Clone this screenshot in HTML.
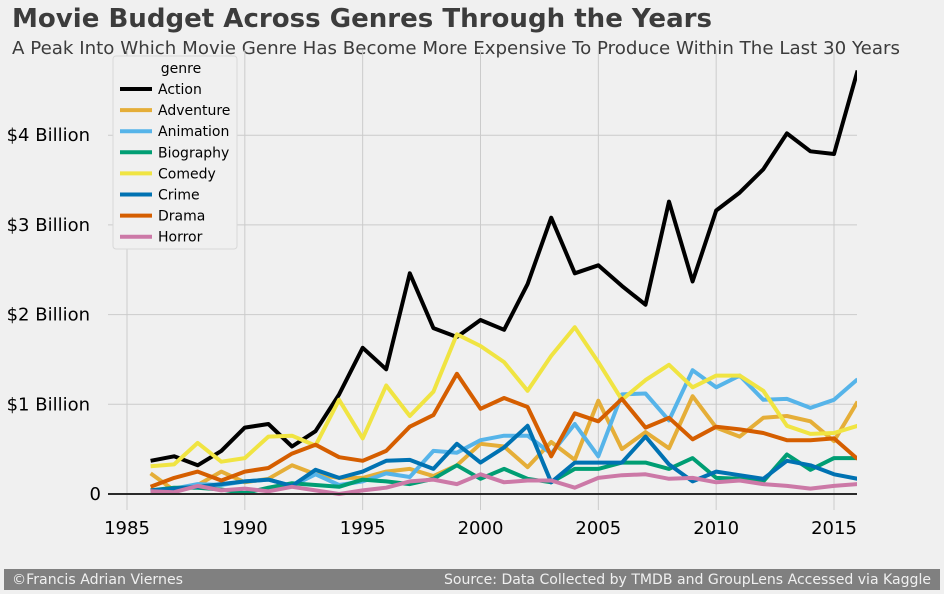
<!DOCTYPE html>
<html><head><meta charset="utf-8"><style>
body{margin:0;background:#f0f0f0;font-family:"DejaVu Sans","Liberation Sans",sans-serif;}
svg{display:block}
</style></head><body>
<svg id="chart" width="944" height="594" font-family="DejaVu Sans, Liberation Sans, sans-serif">
<rect width="944" height="594" fill="#f0f0f0"/>
<text x="12" y="27" font-size="26" font-weight="bold" fill="#3c3c3c" textLength="700" lengthAdjust="spacingAndGlyphs">Movie Budget Across Genres Through the Years</text>
<text x="12" y="54" font-size="17.5" fill="#3c3c3c" textLength="888" lengthAdjust="spacingAndGlyphs">A Peak Into Which Movie Genre Has Become More Expensive To Produce Within The Last 30 Years</text>
<g id="grid"></g>
<g id="lines"></g>
<g id="legend"></g>
<rect x="4" y="569" width="936" height="21" fill="#808080"/>
<text x="12" y="584" font-size="14" fill="#f0f0f0" textLength="171" lengthAdjust="spacingAndGlyphs">©Francis Adrian Viernes</text>
<text x="931" y="584" font-size="14" fill="#f0f0f0" text-anchor="end" textLength="487" lengthAdjust="spacingAndGlyphs">Source: Data Collected by TMDB and GroupLens Accessed via Kaggle</text>
</svg>
<script>
const years=[1986,1987,1988,1989,1990,1991,1992,1993,1994,1995,1996,1997,1998,1999,2000,2001,2002,2003,2004,2005,2006,2007,2008,2009,2010,2011,2012,2013,2014,2015,2016];
const genres=["Action","Adventure","Animation","Biography","Comedy","Crime","Drama","Horror"];
const action=[0.37,0.42,0.32,0.48,0.74,0.78,0.53,0.70,1.11,1.63,1.39,2.46,1.85,1.75,1.94,1.83,2.34,3.08,2.46,2.55,2.32,2.11,3.26,2.37,3.16,3.36,3.62,4.02,3.82,3.79,4.72];
const adventure=[0.23,0.04,0.10,0.25,0.13,0.17,0.32,0.22,0.18,0.18,0.25,0.28,0.20,0.32,0.56,0.53,0.30,0.58,0.38,1.04,0.50,0.69,0.51,1.09,0.74,0.64,0.85,0.87,0.81,0.59,1.03];
const animation=[0.03,0.06,0.11,0.10,0.14,0.16,0.09,0.22,0.10,0.14,0.23,0.19,0.48,0.46,0.60,0.65,0.65,0.45,0.78,0.42,1.11,1.12,0.82,1.38,1.19,1.32,1.05,1.06,0.96,1.05,1.28];
const biography=[0.04,0.07,0.07,0.05,0.01,0.07,0.12,0.10,0.08,0.16,0.14,0.11,0.17,0.32,0.17,0.28,0.17,0.13,0.28,0.28,0.35,0.35,0.28,0.40,0.18,0.17,0.14,0.44,0.27,0.40,0.40];
const comedy=[0.31,0.33,0.57,0.36,0.40,0.64,0.65,0.54,1.05,0.62,1.21,0.87,1.14,1.78,1.65,1.47,1.15,1.54,1.86,1.47,1.05,1.27,1.44,1.19,1.32,1.32,1.15,0.76,0.67,0.68,0.76];
const crime=[0.04,0.06,0.08,0.11,0.14,0.16,0.09,0.27,0.18,0.25,0.37,0.38,0.28,0.56,0.35,0.52,0.76,0.13,0.35,0.35,0.35,0.64,0.33,0.14,0.25,0.21,0.17,0.37,0.32,0.22,0.17];
const drama=[0.08,0.18,0.25,0.15,0.25,0.29,0.45,0.55,0.41,0.37,0.48,0.75,0.88,1.34,0.95,1.07,0.97,0.42,0.90,0.81,1.06,0.74,0.85,0.61,0.75,0.72,0.68,0.60,0.60,0.62,0.39];
const horror=[0.03,0.02,0.09,0.04,0.06,0.03,0.08,0.04,0.00,0.04,0.07,0.14,0.16,0.11,0.22,0.13,0.15,0.15,0.07,0.18,0.21,0.22,0.17,0.18,0.13,0.15,0.11,0.09,0.06,0.09,0.11];
const series=[action,adventure,animation,biography,comedy,crime,drama,horror];
const colors=["#000000","#e5ae38","#56b4e9","#009e73","#f0e442","#0072b2","#d55e00","#cc79a7"];
const yTicks=[0,1,2,3,4];
const yLabels=["0","$1 Billion","$2 Billion","$3 Billion","$4 Billion"];
const xTicks=[1985,1990,1995,2000,2005,2010,2015];

const NS="http://www.w3.org/2000/svg";
const L=108,R=857,T=50,B=510;
const x=v=>127+(v-1985)*(707/30);
const y=v=>494-v*89.7;
function mk(t,a,p){const e=document.createElementNS(NS,t);for(const k in a)e.setAttribute(k,a[k]);p.appendChild(e);return e;}
const grid=document.getElementById('grid');
xTicks.forEach(v=>{
 const g=mk('line',{x1:x(v),x2:x(v),y1:T,y2:B,stroke:'#cbcbcb','stroke-width':1},grid);
 
 
 const t=mk('text',{x:x(v),y:534,'font-size':18,fill:'#000','text-anchor':'middle'},grid);
 t.textContent=v;
 
 
});
yTicks.forEach((v,i)=>{
 const g=mk('line',{x1:L,x2:R,y1:y(v),y2:y(v),stroke:'#cbcbcb','stroke-width':1},grid);
 
 
 const t=mk('text',{x:v===0?101:90,y:y(v)+6,'font-size':18,fill:'#000','text-anchor':'end'},grid);
 t.textContent=yLabels[i];
 
 
});
const lines=document.getElementById('lines');
mk('clipPath',{id:'clip'},lines).appendChild(document.createElementNS(NS,'rect'));
const cr=lines.querySelector('clipPath rect');cr.setAttribute('x',L);cr.setAttribute('y',T-10);cr.setAttribute('width',R-L);cr.setAttribute('height',B-T+10);
const lg=mk('g',{'clip-path':'url(#clip)'},lines);
series.forEach((s,i)=>{
 const d=s.map((v,j)=>(j?'L':'M')+x(years[j]).toFixed(1)+','+y(v).toFixed(1)).join('');
 const p=mk('path',{d:d,fill:'none',stroke:colors[i],'stroke-width':4,'stroke-linejoin':'round'},lg);
 
 
});
const base=mk('line',{x1:108,x2:R,y1:y(0),y2:y(0),stroke:'#2a2a2a','stroke-width':2},lines);


const leg=document.getElementById('legend');
const box=mk('rect',{x:113,y:56,width:124,height:193,rx:3,fill:'#f0f0f0',stroke:'#d8d8d8'},leg);


const lt=mk('text',{x:181,y:73,'font-size':14,fill:'#000','text-anchor':'middle'},leg);
lt.textContent='genre';


genres.forEach((g,i)=>{
 const yy=89+i*21.1;
 const ln=mk('line',{x1:120,x2:152,y1:yy,y2:yy,stroke:colors[i],'stroke-width':4},leg);
 
 
 const t=mk('text',{x:158,y:yy+5,'font-size':14,fill:'#000'},leg);
 t.textContent=g;
 
 
});
</script>
</body></html>
